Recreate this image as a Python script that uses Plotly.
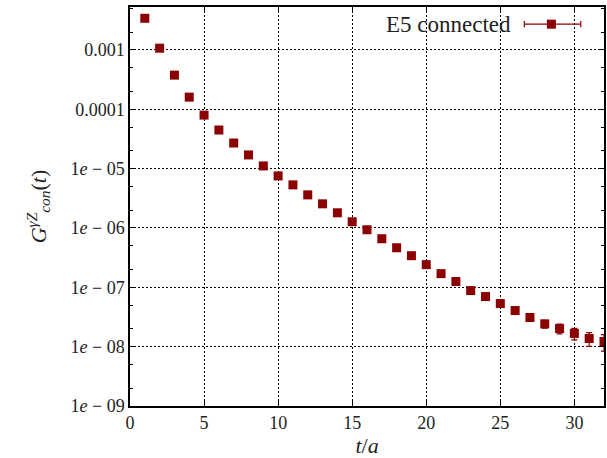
import plotly.graph_objects as go

# ---- data ----
t_vals = list(range(1, 33))
g_vals = [3.41e-3, 1.07e-3, 3.76e-4, 1.60e-4, 7.98e-5, 4.47e-5, 2.70e-5, 1.70e-5,
          1.11e-5, 7.53e-6, 5.32e-6, 3.61e-6, 2.55e-6, 1.80e-6, 1.27e-6, 9.33e-7,
          6.58e-7, 4.64e-7, 3.41e-7, 2.41e-7, 1.70e-7, 1.25e-7, 8.81e-8, 6.98e-8,
          5.32e-8, 4.06e-8, 3.10e-8, 2.42e-8, 2.02e-8, 1.67e-8, 1.37e-8, 1.22e-8]
rel_err = [0.005, 0.005, 0.006, 0.007, 0.008, 0.009, 0.01, 0.012,
           0.014, 0.016, 0.018, 0.02, 0.025, 0.03, 0.035, 0.04,
           0.045, 0.05, 0.055, 0.06, 0.07, 0.08, 0.09, 0.10,
           0.11, 0.12, 0.13, 0.15, 0.19, 0.22, 0.26, 0.31]
g_err = [g * r for g, r in zip(g_vals, rel_err)]

y_tickvals = [1e-9, 1e-8, 1e-7, 1e-6, 1e-5, 1e-4, 1e-3]
y_ticktext = ["1<i>e</i> − 09", "1<i>e</i> − 08", "1<i>e</i> − 07", "1<i>e</i> − 06",
              "1<i>e</i> − 05", "0.0001", "0.001"]
x_tickvals = [0, 5, 10, 15, 20, 25, 30]
series_name = "E5 connected"

COLOR = "#8b0000"
FONT = "Liberation Serif"
TXT = "#222222"

fig = go.Figure()
fig.add_trace(go.Scatter(
    x=t_vals, y=g_vals, mode="markers",
    marker=dict(symbol="square", size=9, color=COLOR, line=dict(width=0)),
    error_y=dict(type="data", array=g_err, visible=True, color=COLOR,
                 thickness=1.2, width=3),
    showlegend=False, name=series_name,
))

axis_common = dict(
    showline=True, linecolor="black", linewidth=1.5, mirror="ticks",
    ticks="inside", ticklen=5, tickcolor="black", tickwidth=1,
    showgrid=True, gridcolor="black", gridwidth=1, griddash="2px,2px",
    zeroline=False,
    tickfont=dict(family=FONT, size=18, color=TXT),
)

fig.update_xaxes(range=[0, 32], tickvals=x_tickvals, **axis_common,
                 title=dict(text="<i>t</i>/<i>a</i>", font=dict(family=FONT, size=22, color=TXT),
                            standoff=8))
fig.update_yaxes(type="log", range=[-9, -2.277], tickvals=y_tickvals, ticktext=y_ticktext,
                 minor=dict(ticks="inside", ticklen=3, tickcolor="black", showgrid=False),
                 **axis_common,
                 title=dict(text="<i>G</i><sup><i>γZ</i></sup><sub><i>con</i></sub>(<i>t</i>)",
                            font=dict(family=FONT, size=22, color=TXT), standoff=18))

# custom legend sample (top right)
lx0, lx1, lxm, ly = 0.832, 0.951, 0.889, 0.957
fig.add_annotation(xref="paper", yref="paper", x=0.807, y=ly, xanchor="right", yanchor="middle",
                   text=series_name, showarrow=False,
                   font=dict(family=FONT, size=23, color=TXT))
fig.add_shape(type="line", xref="paper", yref="paper", x0=lx0, x1=lx1, y0=ly, y1=ly,
              line=dict(color=COLOR, width=1.2))
for xc in (lx0, lx1):
    fig.add_shape(type="line", xref="paper", yref="paper", x0=xc, x1=xc,
                  y0=ly - 0.008, y1=ly + 0.008, line=dict(color=COLOR, width=1.2))
fig.add_shape(type="rect", xref="paper", yref="paper",
              x0=lxm - 0.0095, x1=lxm + 0.0095, y0=ly - 0.0113, y1=ly + 0.0113,
              fillcolor=COLOR, line=dict(width=0))

fig.update_layout(
    width=607, height=458,
    margin=dict(l=130, r=1, t=7, b=52),
    paper_bgcolor="white", plot_bgcolor="white",
    font=dict(family=FONT, color=TXT),
)

fig.write_html("out.html")
